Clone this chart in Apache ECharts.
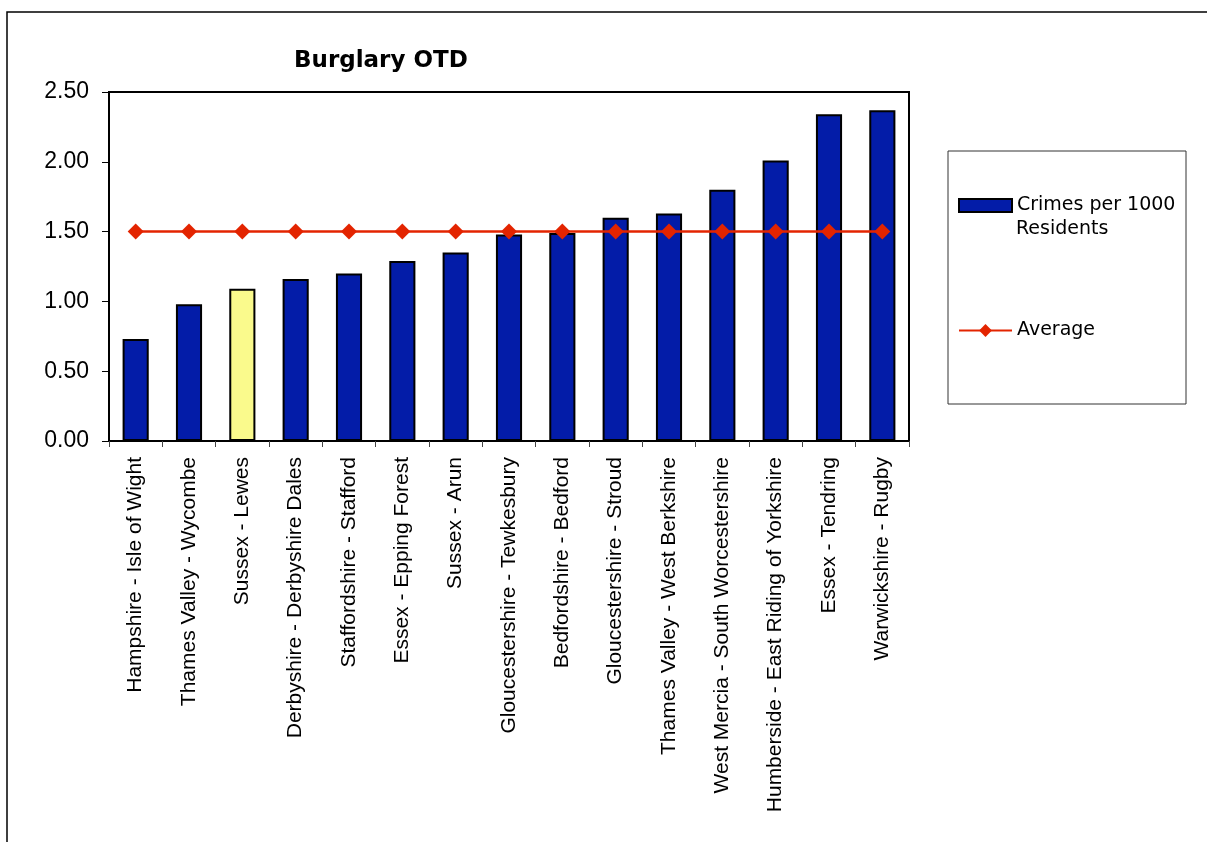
<!DOCTYPE html>
<html>
<head>
<meta charset="utf-8">
<script src="https://cdn.jsdelivr.net/npm/echarts@6/dist/echarts.min.js"></script>
<style>
html,body{margin:0;padding:0;background:#fff;}
#main{width:1207px;height:842px;}
</style>
</head>
<body>
<div id="main"></div>
<script>
var categories = ['Hampshire - Isle of Wight','Thames Valley - Wycombe','Sussex - Lewes','Derbyshire - Derbyshire Dales','Staffordshire - Stafford','Essex - Epping Forest','Sussex - Arun','Gloucestershire - Tewkesbury','Bedfordshire - Bedford','Gloucestershire - Stroud','Thames Valley - West Berkshire','West Mercia - South Worcestershire','Humberside - East Riding of Yorkshire','Essex - Tendring','Warwickshire - Rugby'];
var crimes = [0.73,0.98,1.09,1.16,1.20,1.29,1.35,1.48,1.49,1.60,1.63,1.80,2.01,2.34,2.37];
var average = [1.50,1.50,1.50,1.50,1.50,1.50,1.50,1.50,1.50,1.50,1.50,1.50,1.50,1.50,1.50];
var highlight = 'Sussex - Lewes';

var blue = '#031ca8', yellow = '#fafa8c', red = '#e32400';

var myChart = echarts.init(document.getElementById('main'));
var option = {
	backgroundColor:'#fff',
	animation:false,
	title:{
		text:'Burglary OTD',
		left:289,
		top:45,
		textStyle:{fontFamily:'DejaVu Sans',fontWeight:'bold',fontSize:23,color:'#000'}
	},
	graphic:[
		{type:'rect',shape:{x:7,y:12,width:1220,height:850},style:{fill:null,stroke:'#000',lineWidth:1.5},silent:true},
		{type:'rect',shape:{x:948,y:151,width:238,height:253},style:{fill:'#fff',stroke:'#333',lineWidth:1},silent:true,z:-1},
		// second line of the bar legend label
		{type:'text',left:1016,top:220,style:{text:'Residents',fill:'#000',font:'19px "DejaVu Sans"'},silent:true}
	],
	legend:[
		{
			data:['Crimes per 1000 Residents'],
			left:958, top:196, padding:0,
			icon:'rect',
			itemWidth:53, itemHeight:13,
			formatter:function(name){ return 'Crimes per 1000'; },
			textStyle:{fontFamily:'DejaVu Sans',fontSize:19,color:'#000'}
		},
		{
			data:['Average'],
			left:958, top:321, padding:0,
			itemWidth:53, itemHeight:16,
			textStyle:{fontFamily:'DejaVu Sans',fontSize:19,color:'#000'}
		}
	],
	grid:{
		left:109, right:298, top:92, bottom:401,
		show:true, borderColor:'#000', borderWidth:2, backgroundColor:'transparent'
	},
	xAxis:{
		type:'category',
		data:categories,
		axisLine:{lineStyle:{color:'#000',width:2}},
		axisTick:{show:true,length:6,lineStyle:{color:'#444',width:1}},
		axisLabel:{rotate:90,interval:0,margin:16,fontFamily:'Liberation Sans',fontSize:21,color:'#000'}
	},
	yAxis:{
		type:'value',
		min:0, max:2.5, interval:0.5,
		axisLine:{show:true,lineStyle:{color:'#000',width:2}},
		axisTick:{show:true,length:7,lineStyle:{color:'#000',width:1}},
		splitLine:{show:false},
		axisLabel:{margin:20,fontFamily:'Liberation Sans',fontSize:23,color:'#000',
			formatter:function(v){ return v.toFixed(2); }}
	},
	series:[
		{
			name:'Crimes per 1000 Residents',
			type:'bar',
			barWidth:'49%',
			itemStyle:{color:blue,borderColor:'#000',borderWidth:2},
			data:crimes.map(function(v,i){
				return categories[i] == highlight ? {value:v,itemStyle:{color:yellow}} : v;
			})
		},
		{
			name:'Average',
			type:'line',
			data:average,
			symbol:'diamond',
			symbolSize:[16,16],
			showAllSymbol:true,
			lineStyle:{color:red,width:2.5},
			itemStyle:{color:red}
		}
	]
};
myChart.setOption(option);
</script>
</body>
</html>
